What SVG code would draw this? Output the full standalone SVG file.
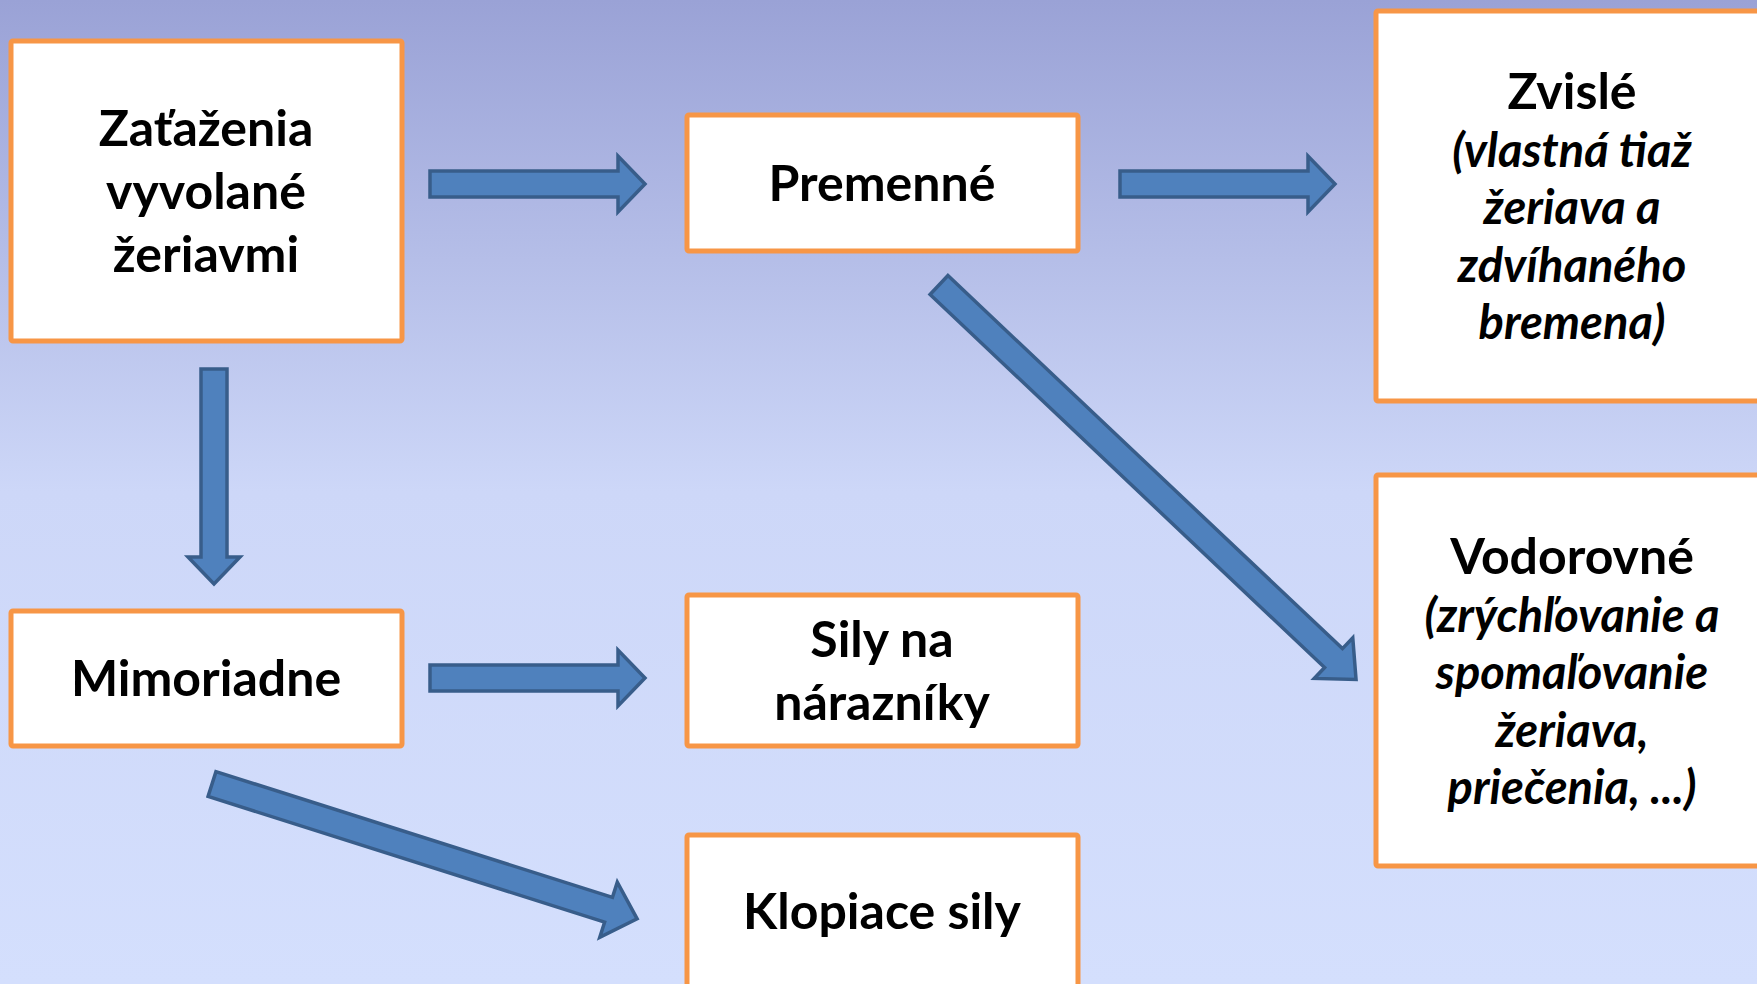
<svg xmlns="http://www.w3.org/2000/svg" width="1757" height="984" viewBox="0 0 1757 984">
<defs>
<linearGradient id="bg" x1="0" y1="0" x2="0" y2="1">
<stop offset="0" stop-color="#9AA2D6"/>
<stop offset="0.5" stop-color="#CDD7F8"/>
<stop offset="1" stop-color="#D4DFFD"/>
</linearGradient>
</defs>
<style>
.box{fill:#FFFFFF;stroke:#F79646;stroke-width:5}
.arr{fill:#4F81BD;stroke:#385D8A;stroke-width:3.5;stroke-linejoin:miter}
.t{font-family:Lato,"Open Sans","Liberation Sans",sans-serif;font-weight:bold;font-size:50px;fill:#000;text-anchor:middle}
.i{font-family:Lato,"Open Sans","Liberation Sans",sans-serif;font-weight:bold;font-style:italic;font-size:47px;fill:#000;text-anchor:middle}
</style>
<rect x="0" y="0" width="1757" height="984" fill="url(#bg)"/>

<g id="connectors">
<path class="arr" transform="translate(430,184)" d="M0,-13 L188,-13 L188,-28 L215,0 L188,28 L188,13 L0,13 Z"/>
<path class="arr" transform="translate(1120,184)" d="M0,-13 L188,-13 L188,-28 L215,0 L188,28 L188,13 L0,13 Z"/>
<path class="arr" transform="translate(214,369) rotate(90)" d="M0,-13 L188,-13 L188,-26 L215,0 L188,26 L188,13 L0,13 Z"/>
<path class="arr" transform="translate(430,678)" d="M0,-13 L188,-13 L188,-28 L215,0 L188,28 L188,13 L0,13 Z"/>
<path class="arr" transform="translate(212,784) rotate(17.6)" d="M0,-13 L416,-13 L416,-29 L446,0 L416,29 L416,13 L0,13 Z"/>
<path class="arr" transform="translate(939,285) rotate(43.4)" d="M0,-13 L543,-13 L543,-28 L574,0 L543,28 L543,13 L0,13 Z"/>
</g>

<g id="n-zatazenia">
<rect class="box" x="11" y="41" width="391" height="300" rx="2"/>
<text class="t" x="206" y="146">Zaťaženia</text>
<text class="t" x="206" y="209">vyvolané</text>
<text class="t" x="206" y="272">žeriavmi</text>
</g>

<g id="n-premenne">
<rect class="box" x="687" y="115" width="391" height="136" rx="2"/>
<text class="t" x="882" y="201">Premenné</text>
</g>

<g id="n-zvisle">
<rect class="box" x="1376" y="11" width="400" height="390" rx="2"/>
<text class="t" x="1572" y="109">Zvislé</text>
<text class="i" x="1572" y="167">(vlastná tiaž</text>
<text class="i" x="1572" y="224">žeriava a</text>
<text class="i" x="1572" y="282">zdvíhaného</text>
<text class="i" x="1572" y="339">bremena)</text>
</g>

<g id="n-vodorovne">
<rect class="box" x="1376" y="475" width="400" height="391" rx="2"/>
<text class="t" x="1572" y="574">Vodorovné</text>
<text class="i" x="1572" y="632">(zrýchľovanie a</text>
<text class="i" x="1572" y="689">spomaľovanie</text>
<text class="i" x="1572" y="747">žeriava,</text>
<text class="i" x="1572" y="804">priečenia, ...)</text>
</g>

<g id="n-mimoriadne">
<rect class="box" x="11" y="611" width="391" height="135" rx="2"/>
<text class="t" x="206" y="696">Mimoriadne</text>
</g>

<g id="n-sily">
<rect class="box" x="687" y="595" width="391" height="151" rx="2"/>
<text class="t" x="882" y="657">Sily na</text>
<text class="t" x="882" y="720">nárazníky</text>
</g>

<g id="n-klopiace">
<rect class="box" x="687" y="835" width="391" height="180" rx="2"/>
<text class="t" x="882" y="929">Klopiace sily</text>
</g>
</svg>
